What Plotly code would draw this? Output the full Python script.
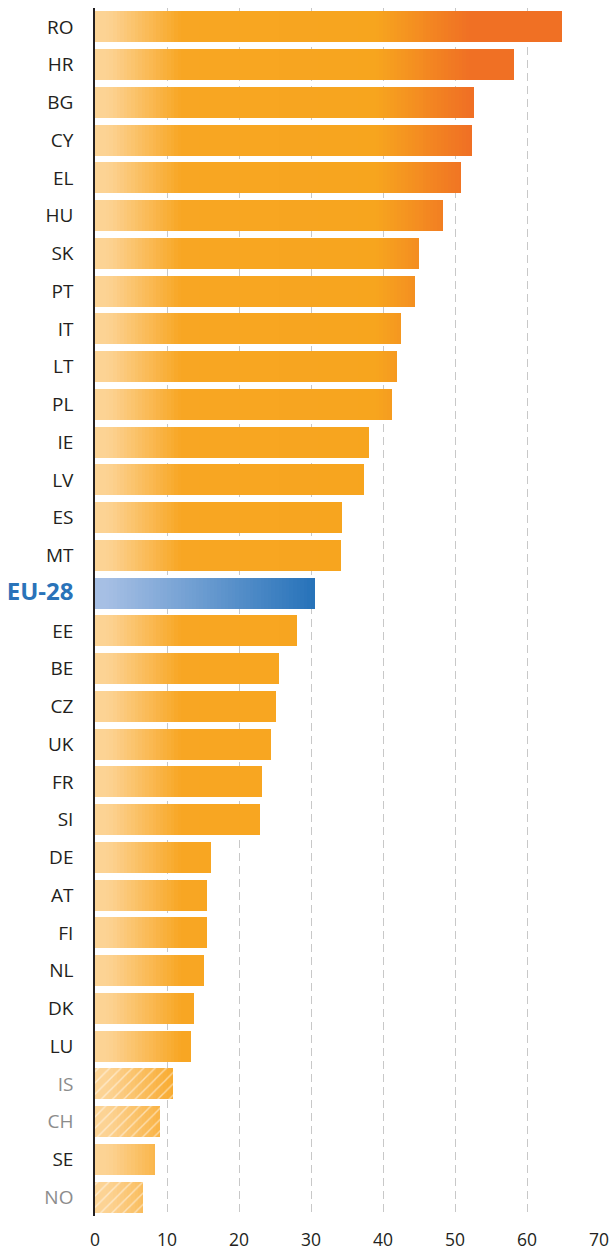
import math
import plotly.graph_objects as go

# ---------------- data ----------------
countries = ["RO", "HR", "BG", "CY", "EL", "HU", "SK", "PT", "IT", "LT", "PL", "IE",
             "LV", "ES", "MT", "EU-28", "EE", "BE", "CZ", "UK", "FR", "SI", "DE", "AT",
             "FI", "NL", "DK", "LU", "IS", "CH", "SE", "NO"]
values = [64.8, 58.2, 52.6, 52.3, 50.9, 48.3, 45.0, 44.4, 42.5, 41.9, 41.2, 38.0,
          37.3, 34.3, 34.1, 30.5, 28.0, 25.5, 25.1, 24.4, 23.2, 22.9, 16.1, 15.5,
          15.5, 15.1, 13.8, 13.3, 10.9, 9.0, 8.3, 6.6]
highlight = ["EU-28"]
non_eu = ["IS", "CH", "NO"]          # hatched bars, grey labels
x_ticks = [0, 10, 20, 30, 40, 50, 60, 70]

# ---------------- styles ----------------
ORANGE_STOPS = [(0, (252, 212, 150)), (2, (252, 210, 146)), (12, (248, 166, 35)),
                (39, (247, 165, 30)), (52, (240, 112, 36)), (80, (240, 112, 36))]
BLUE_STOPS_REL = [(0.0, (166, 191, 228)), (0.05, (166, 191, 228)), (1.0, (38, 114, 185))]
TEXT = "#231F20"
GREY_TXT = "#8C8C8C"
BLUE_TXT = "#2A73B9"
FONT = "Open Sans"


def interp(stops, t):
    for (a, ca), (b, cb) in zip(stops[:-1], stops[1:]):
        if t <= b:
            f = 0 if b == a else (t - a) / (b - a)
            f = min(max(f, 0), 1)
            c = [round(ca[j] + (cb[j] - ca[j]) * f) for j in range(3)]
            return "rgb({},{},{})".format(*c)
    c = stops[-1][1]
    return "rgb({},{},{})".format(*c)


fig = go.Figure()

step = 0.5
nseg = int(math.ceil(max(values) / step))
for k in range(nseg):
    lo = k * step
    xs, cols = [], []
    for c, v in zip(countries, values):
        if v > lo:
            xs.append(min(v - lo, 1.6 * step))
        else:
            xs.append(None)
        mid = lo + step / 2
        if c in highlight:
            cols.append(interp(BLUE_STOPS_REL, mid / v))
        else:
            cols.append(interp(ORANGE_STOPS, mid))
    fig.add_trace(go.Bar(
        y=countries, x=xs, base=lo, orientation="h", width=0.82,
        marker=dict(color=cols, line=dict(width=0)),
        hoverinfo="skip", showlegend=False,
    ))

# hatch overlay for non-EU countries
fig.add_trace(go.Bar(
    y=countries, x=[v if c in non_eu else None for c, v in zip(countries, values)],
    base=0, orientation="h", width=0.82,
    marker=dict(color="rgba(0,0,0,0)", line=dict(width=0),
                pattern=dict(shape="/", fgcolor="white", fillmode="overlay",
                             size=8, solidity=0.18)),
    hoverinfo="skip", showlegend=False,
))


def label(c):
    if c in highlight:
        return '<span style="color:%s;font-size:24px"><b>%s</b></span>' % (BLUE_TXT, c)
    if c in non_eu:
        return '<span style="color:%s">%s</span>' % (GREY_TXT, c)
    return c


fig.update_layout(
    width=612, height=1249,
    margin=dict(l=95, r=13, t=8, b=33),
    barmode="overlay", bargap=0,
    plot_bgcolor="white", paper_bgcolor="white",
    font=dict(family=FONT, color=TEXT),
    showlegend=False,
)
fig.update_xaxes(
    range=[0, 70], tickvals=x_ticks, ticktext=[str(t) for t in x_ticks],
    showgrid=True, gridcolor="#C8C8C8", gridwidth=1.3, griddash="8px,5px",
    zeroline=False, showline=False, ticks="", automargin=False,
    tickfont=dict(size=17.5, color=TEXT, family=FONT), ticklabelstandoff=11,
)
fig.update_yaxes(
    type="category", categoryorder="array", categoryarray=countries,
    autorange="reversed", automargin=False,
    tickvals=countries, ticktext=[label(c) for c in countries],
    showgrid=False, zeroline=False, showline=True, linecolor=TEXT, linewidth=1.5,
    ticks="", tickfont=dict(size=19, color=TEXT, family=FONT), ticklabelstandoff=16,
)

fig.write_html("out.html", config={"displayModeBar": False},
               post_script="document.body.style.margin='0';document.body.style.overflow='hidden';")
